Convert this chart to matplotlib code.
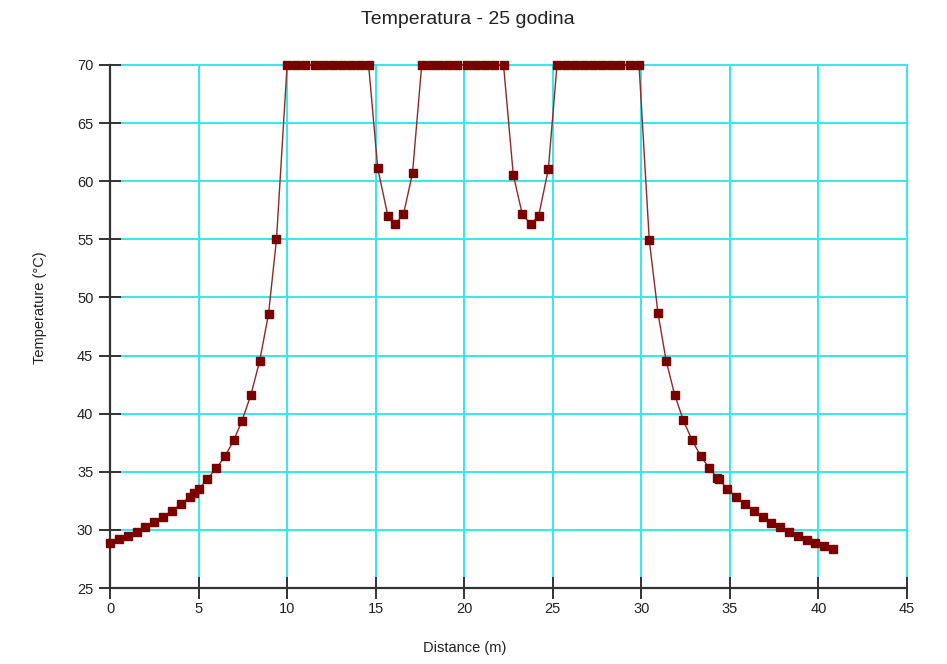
import matplotlib
matplotlib.use("Agg")
import matplotlib.pyplot as plt

# Data
distance = [0.0, 0.5, 1.0, 1.5, 2.0, 2.5, 3.0, 3.5, 4.0, 4.5, 4.75, 5.05, 5.5, 6.0, 6.5, 7.0,
            7.45, 7.95, 8.45, 8.95, 9.4,
            10.0, 10.52, 11.03, 11.55, 12.07, 12.58, 13.1, 13.6, 14.1, 14.6,
            15.12, 15.69, 16.1, 16.57, 17.08,
            17.6, 18.1, 18.6, 19.1, 19.6, 20.15, 20.68, 21.19, 21.69, 22.22,
            22.77, 23.28, 23.75, 24.2, 24.75,
            25.24, 25.75, 26.25, 26.76, 27.29, 27.8, 28.3, 28.81, 29.34, 29.87,
            30.45, 30.94, 31.4, 31.88, 32.37, 32.86, 33.35, 33.84, 34.29, 34.37,
            34.85, 35.35, 35.84, 36.34, 36.85, 37.34, 37.85, 38.34, 38.85, 39.36,
            39.83, 40.32, 40.81]
temperature = [28.85, 29.19, 29.5, 29.85, 30.28, 30.68, 31.14, 31.66, 32.2, 32.86, 33.15, 33.55,
               34.4, 35.3, 36.36, 37.74, 39.4, 41.58, 44.54, 48.58, 55.0,
               70, 70, 70, 70, 70, 70, 70, 70, 70, 70,
               61.1, 57.0, 56.3, 57.15, 60.7,
               70, 70, 70, 70, 70, 70, 70, 70, 70, 70,
               60.55, 57.15, 56.3, 57.0, 61.05,
               70, 70, 70, 70, 70, 70, 70, 70, 70, 70,
               54.9, 48.65, 44.56, 41.64, 39.43, 37.74, 36.36, 35.3, 34.47, 34.35,
               33.55, 32.8, 32.2, 31.63, 31.08, 30.62, 30.22, 29.82, 29.5, 29.16,
               28.85, 28.61, 28.33]

x_ticks = [0, 5, 10, 15, 20, 25, 30, 35, 40, 45]
y_ticks = [25, 30, 35, 40, 45, 50, 55, 60, 65, 70]

title = "Temperatura - 25 godina"
xlabel = "Distance (m)"
ylabel = "Temperature (°C)"

plt.rcParams['font.family'] = ['Liberation Sans', 'DejaVu Sans']

W, H = 947, 664
fig = plt.figure(figsize=(W / 100, H / 100), dpi=100)
ax = fig.add_axes([110 / W, 1 - 588 / H, (907 - 110) / W, (588 - 65) / H])

ax.plot(distance, temperature, color='#8a2a2a', linewidth=1.0, marker='s',
        markersize=5.5, markerfacecolor='#7a0000', markeredgecolor='#7a0000',
        clip_on=False, zorder=3)

ax.set_xlim(0, 45)
ax.set_ylim(25, 70)
ax.set_xticks(x_ticks)
ax.set_yticks(y_ticks)
ax.grid(True, color='#33e8ea', linewidth=1.4, zorder=0)
ax.set_axisbelow(True)
for gl in ax.get_xgridlines() + ax.get_ygridlines():
    gl.set_clip_on(False)

for s in ['top', 'right']:
    ax.spines[s].set_visible(False)
for s in ['left', 'bottom']:
    ax.spines[s].set_color('#333333')
    ax.spines[s].set_linewidth(1.6)
    ax.spines[s].set_zorder(2.5)

ax.tick_params(axis='both', direction='inout', length=16, width=1.4, color='#333333',
               labelsize=10.5, labelcolor='#222222')
ax.tick_params(axis='y', pad=4)
ax.tick_params(axis='x', pad=2)

fig.text(468 / W, 1 - 20 / H, title, ha='center', va='center', fontsize=14, color='#222222')
fig.text(465 / W, 1 - 648 / H, xlabel, ha='center', va='center', fontsize=10.5, color='#222222')
fig.text(40 / W, 1 - 308 / H, ylabel, ha='center', va='center', rotation=90,
         fontsize=10.5, color='#222222')

fig.savefig('out.png', dpi=100)
